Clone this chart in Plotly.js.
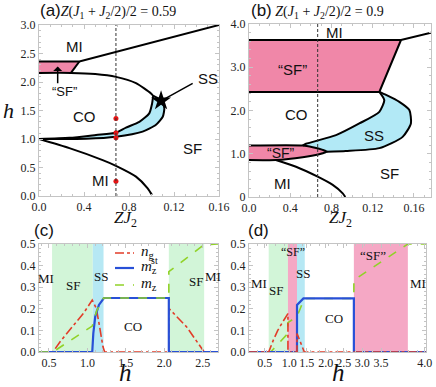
<!DOCTYPE html>
<html><head><meta charset="utf-8">
<script src="https://cdn.plot.ly/plotly-3.0.1.min.js"></script>
<style>html,body{margin:0;padding:0;background:#fff}#g{width:436px;height:387px}</style>
</head><body><div id="g"></div>
<script>
// ---------- Panel (a): phase diagram, Z(J1+J2/2)/2 = 0.59 ----------
const aTopX = [0, 0.0359, 0.16];
const aTopY = [2.36, 2.36, 3.0];
const aPinkX = [0, 0.0284, 0.0359, 0];
const aPinkY = [2.16, 2.16, 2.36, 2.36];
const aCOtopX = [0, 0.0284, 0.05, 0.0684, 0.0862, 0.0996, 0.1015];
const aCOtopY = [2.16, 2.16, 2.14, 2.09, 1.98, 1.80, 1.76];
const aSSoutX = [0.1015, 0.1055, 0.1095, 0.1114, 0.110, 0.104, 0.0921, 0.0684, 0.0418, 0];
const aSSoutY = [1.76, 1.72, 1.65, 1.54, 1.39, 1.25, 1.13, 1.04, 1.005, 1.0];
const aSSinX = [0.1015, 0.1005, 0.098, 0.0892, 0.0773, 0.0684, 0.0507, 0.027, 0];
const aSSinY = [1.76, 1.62, 1.45, 1.30, 1.20, 1.11, 1.07, 1.02, 1.0];
const aMIlowX = [0, 0.027, 0.0566, 0.0684, 0.0862, 0.0966, 0.1004];
const aMIlowY = [1.0, 0.84, 0.63, 0.53, 0.34, 0.135, 0.02];
const aCut = 0.0684;
const aDotsY = [1.36, 1.11, 1.02, 0.26];
const aStar = [0.1085, 1.67];
const aArrowTail = [0.1366, 1.977];

// ---------- Panel (b): phase diagram, Z(J1+J2/2)/2 = 0.9 ----------
const bTopX = [0, 0.1474, 0.1765];
const bTopY = [3.63, 3.63, 3.80];
const bPinkX = [0, 0.1264, 0.1474, 0];
const bPinkY = [2.43, 2.43, 3.63, 3.63];
const bSSoutX = [0.1264, 0.1329, 0.1458, 0.1555, 0.157, 0.149, 0.1264, 0.094, 0.0757];
const bSSoutY = [2.43, 2.36, 2.20, 2.01, 1.70, 1.39, 1.13, 1.064, 1.048];
const bSSinX = [0.1264, 0.1312, 0.1264, 0.107, 0.0844, 0.0553, 0.052];
const bSSinY = [2.43, 2.24, 1.97, 1.70, 1.43, 1.23, 1.19];
const bLobeX = [0, 0.052, 0.0618, 0.0715, 0.0757, 0.068, 0.052, 0.026, 0];
const bLobeY = [1.19, 1.19, 1.15, 1.09, 1.048, 0.99, 0.92, 0.855, 0.855];
const bMIlowX = [0.026, 0.0456, 0.0666, 0.0812, 0.0909, 0.0934];
const bMIlowY = [0.855, 0.70, 0.47, 0.28, 0.085, 0.0];
const bCut = 0.0666;

// ---------- Panel (c): order parameters vs h ----------
const cNgX = [0.37, 0.55, 0.65, 0.75, 0.85, 0.95, 1.063, 1.116, 1.159, 1.202, 1.225, 2.06, 2.06, 2.29, 2.52, 2.70];
const cNgY = [0, 0, 0.05, 0.095, 0.14, 0.18, 0.24, 0.202, 0.117, 0.025, 0, 0, 0.202, 0.117, 0, 0];
const cMstX = [0.37, 1.063, 1.077, 1.102, 1.150, 1.215, 2.06, 2.06, 2.70];
const cMstY = [0, 0, 0.086, 0.164, 0.218, 0.25, 0.25, 0, 0];
const cMzX = [0.37, 0.55, 1.063, 1.12, 1.21, 2.06, 2.06, 2.52, 2.70];
const cMzY = [0, 0, 0.12, 0.19, 0.25, 0.25, 0.372, 0.497, 0.5];
const cGreen = [[0.54, 1.07], [2.06, 2.52]];
const cBlue = [[1.07, 1.21]];
const seriesNames = ['<i>n</i><sub>g</sub>', '<i>m</i><sub>z</sub>', '<i>m</i><sub>z</sub>'];
const seriesSup = ['', 'st', ''];

// ---------- Panel (d): order parameters vs h ----------
const dNgX = [0, 0.445, 0.55, 0.65, 0.75, 0.88, 0.88, 1.085, 1.085, 1.25, 4.0];
const dNgY = [0, 0, 0.055, 0.10, 0.135, 0.178, 0, 0, 0.086, 0, 0];
const dMstX = [0, 1.085, 1.085, 1.23, 2.37, 2.37, 4.0];
const dMstY = [0, 0, 0.218, 0.248, 0.248, 0, 0];
const dMzX = [0, 0.49, 0.88, 0.88, 1.085, 1.25, 2.37, 2.37, 3.59, 4.0];
const dMzY = [0, 0, 0.086, 0.136, 0.164, 0.248, 0.248, 0.333, 0.5, 0.5];
const dGreen = [[0.445, 0.88]];
const dPink = [[0.88, 1.085], [2.37, 3.59]];
const dBlue = [[1.085, 1.26]];
const dTickText = ['0.5', '1.0', '1.5', '2.0', '2.5', '3.0', '3.5', '4.0'];
const dTickAt = [0.357, 0.911, 1.306, 1.733, 2.142, 2.561, 2.983, 3.973];

// ---------- styles ----------
const W = 436, H = 387;
const PINK = 'rgb(240,135,168)', LBLUE = 'rgb(178,233,246)';
const SGREEN = 'rgb(210,245,216)', SBLUE = 'rgb(182,232,244)', SPINK = 'rgb(245,168,197)';
const RED = 'rgb(226,60,40)', BLUE = 'rgb(40,80,215)', GREEN = 'rgb(145,210,40)';
const STY = [{color: RED, width: 1.6, dash: 'dashdot'}, {color: BLUE, width: 2.2}, {color: GREEN, width: 1.6, dash: 'dash'}];
const px = v => v / W, py = v => 1 - v / H;

function line(x, y, xa, ya, extra) {
  return Object.assign({x, y, xaxis: xa, yaxis: ya, mode: 'lines', showlegend: false, hoverinfo: 'skip',
    line: {color: '#000', width: 2, shape: 'spline', smoothing: 0.6}}, extra || {});
}
function fillPoly(x, y, xa, ya, color, shape) {
  return {x, y, xaxis: xa, yaxis: ya, mode: 'lines', fill: 'toself', fillcolor: color,
    line: {width: 0, color: color, shape: shape || 'linear', smoothing: 0.6}, showlegend: false, hoverinfo: 'skip'};
}
const rev = a => a.slice().reverse();

const traces = [];
// (a)
traces.push(fillPoly(aPinkX, aPinkY, 'x', 'y', PINK));
traces.push(fillPoly(aSSoutX.concat(rev(aSSinX)), aSSoutY.concat(rev(aSSinY)), 'x', 'y', LBLUE, 'spline'));
traces.push(line(aTopX, aTopY, 'x', 'y', {line: {color: '#000', width: 2}}));
traces.push(line([aPinkX[1], aPinkX[2]], [aPinkY[1], aPinkY[2]], 'x', 'y', {line: {color: '#000', width: 2}}));
traces.push(line(aCOtopX.concat(aSSoutX.slice(1)), aCOtopY.concat(aSSoutY.slice(1)), 'x', 'y'));
traces.push(line(aSSinX, aSSinY, 'x', 'y'));
traces.push(line(aMIlowX, aMIlowY, 'x', 'y'));
traces.push({x: aDotsY.map(() => aCut), y: aDotsY, xaxis: 'x', yaxis: 'y', mode: 'markers', showlegend: false,
  marker: {color: 'rgb(230,20,20)', size: 5}, hoverinfo: 'skip'});
traces.push(line([aArrowTail[0], aStar[0]], [aArrowTail[1], aStar[1]], 'x', 'y', {line: {color: '#000', width: 1.5}}));
traces.push({x: [aStar[0]], y: [aStar[1]], xaxis: 'x', yaxis: 'y', mode: 'markers', showlegend: false,
  marker: {symbol: 'star', color: '#000', size: 15}, hoverinfo: 'skip'});
// (b)
traces.push(fillPoly(bPinkX, bPinkY, 'x2', 'y2', PINK));
traces.push(fillPoly(bLobeX, bLobeY, 'x2', 'y2', PINK, 'spline'));
const ssbX = bSSinX.concat(bLobeX.slice(2, 5), rev(bSSoutX).slice(1));
const ssbY = bSSinY.concat(bLobeY.slice(2, 5), rev(bSSoutY).slice(1));
traces.push(fillPoly(ssbX, ssbY, 'x2', 'y2', LBLUE, 'spline'));
traces.push(line(bTopX, bTopY, 'x2', 'y2', {line: {color: '#000', width: 2}}));
traces.push(line(bPinkX.slice(0, 3), bPinkY.slice(0, 3), 'x2', 'y2', {line: {color: '#000', width: 2}}));
traces.push(line(bSSoutX, bSSoutY, 'x2', 'y2'));
traces.push(line(bSSinX, bSSinY, 'x2', 'y2'));
traces.push(line(bLobeX, bLobeY, 'x2', 'y2'));
traces.push(line(bMIlowX, bMIlowY, 'x2', 'y2'));
// (c)
[[cNgX, cNgY], [cMstX, cMstY], [cMzX, cMzY]].forEach((s, i) =>
  traces.push({x: s[0], y: s[1], xaxis: 'x3', yaxis: 'y3', mode: 'lines', showlegend: false, line: STY[i], hoverinfo: 'skip'}));
// (d)
[[dMzX, dMzY, 2], [dMstX, dMstY, 1], [dNgX, dNgY, 0]].forEach(s =>
  traces.push({x: s[0], y: s[1], xaxis: 'x4', yaxis: 'y4', mode: 'lines', showlegend: false, line: STY[s[2]], hoverinfo: 'skip'}));

// shading shapes
const shapes = [];
function band(list, xref, yref, color) {
  list.forEach(b => shapes.push({type: 'rect', xref, yref: yref + ' domain', x0: b[0], x1: b[1], y0: 0, y1: 1,
    fillcolor: color, line: {width: 0}, layer: 'below'}));
}
band(cGreen, 'x3', 'y3', SGREEN); band(cBlue, 'x3', 'y3', SBLUE);
band(dGreen, 'x4', 'y4', SGREEN); band(dPink, 'x4', 'y4', SPINK); band(dBlue, 'x4', 'y4', SBLUE);
shapes.push({type: 'line', xref: 'x', yref: 'y domain', x0: aCut, x1: aCut, y0: 0, y1: 1, line: {color: '#333', width: 1, dash: '3px,2px'}});
shapes.push({type: 'line', xref: 'x2', yref: 'y2 domain', x0: bCut, x1: bCut, y0: 0, y1: 1, line: {color: '#333', width: 1, dash: '3px,2px'}});

const TF = {family: 'Liberation Serif', size: 12, color: '#222'};
function axis(o) {
  return Object.assign({showline: true, linecolor: '#c4c4c4', linewidth: 1, mirror: 'ticks', ticks: 'inside',
    ticklen: 4, tickcolor: '#c4c4c4', showgrid: false, zeroline: false, tickfont: TF, fixedrange: true}, o);
}
function minor(d) { return {ticks: 'inside', ticklen: 2, tickcolor: '#c4c4c4', tickmode: 'linear', tick0: 0, dtick: d}; }

const ann = [];
function t(x, y, xr, yr, text, size, fam, extra) {
  ann.push(Object.assign({x, y, xref: xr, yref: yr, text, showarrow: false, xanchor: 'center', yanchor: 'middle',
    font: {family: fam || 'Liberation Sans', size: size || 14, color: '#111'}}, extra || {}));
}
// titles
t(px(38), py(11), 'paper', 'paper', '<span style="font-family:Liberation Sans;font-size:17px">(a)</span><i>Z</i>(<i>J</i><sub>1</sub> + <i>J</i><sub>2</sub>/2)/2 = 0.59', 14, 'Liberation Serif', {xanchor: 'left'});
t(px(249), py(11), 'paper', 'paper', '<span style="font-family:Liberation Sans;font-size:17px">(b)</span> <i>Z</i>(<i>J</i><sub>1</sub> + <i>J</i><sub>2</sub>/2)/2 = 0.9', 14, 'Liberation Serif', {xanchor: 'left'});
t(px(44), py(230), 'paper', 'paper', '(c)', 17);
t(px(258), py(230), 'paper', 'paper', '(d)', 17);
t(px(8), py(110), 'paper', 'paper', '<i>h</i>', 22, 'Liberation Serif');
t(px(125), py(219), 'paper', 'paper', '<i>ZJ</i><sub>2</sub>', 17, 'Liberation Serif');
t(px(340), py(219), 'paper', 'paper', '<i>ZJ</i><sub>2</sub>', 17, 'Liberation Serif');
t(px(125), py(372), 'paper', 'paper', '<i>h</i>', 25, 'Liberation Serif');
t(px(338), py(372), 'paper', 'paper', '<i>h</i>', 25, 'Liberation Serif');
// manual legend for (c)
const legRows = [253, 268, 285];
seriesNames.forEach((nm, i) => {
  shapes.push({type: 'line', xref: 'paper', yref: 'paper', x0: px(115), x1: px(134), y0: py(legRows[i]), y1: py(legRows[i]),
    line: STY[i]});
  t(px(139), py(legRows[i] - 1), 'paper', 'paper', nm, 15, 'Liberation Serif', {xanchor: 'left'});
  if (seriesSup[i]) t(px(149), py(legRows[i] - 8), 'paper', 'paper', seriesSup[i], 10, 'Liberation Serif', {xanchor: 'left'});
});
// (a) labels
t(0.0314, 2.62, 'x', 'y', 'MI', 15);
t(0.0225, 1.83, 'x', 'y', '\u201CSF\u201D', 13);
t(0.0403, 1.39, 'x', 'y', 'CO', 15);
t(0.150, 2.06, 'x', 'y', 'SS', 15);
t(0.1366, 0.84, 'x', 'y', 'SF', 15);
t(0.0551, 0.28, 'x', 'y', 'MI', 15);
ann.push({x: 0.0166, y: 2.27, ax: 0.0166, ay: 1.95, xref: 'x', yref: 'y', axref: 'x', ayref: 'y', text: '',
  showarrow: true, arrowhead: 1, arrowsize: 1, arrowwidth: 1.5, arrowcolor: '#000'});
// (b) labels
t(0.0828, 3.80, 'x2', 'y2', 'MI', 15);
t(0.0424, 2.94, 'x2', 'y2', '\u201CSF\u201D', 15);
t(0.0456, 1.90, 'x2', 'y2', 'CO', 15);
t(0.1215, 1.43, 'x2', 'y2', 'SS', 15);
t(0.031, 1.02, 'x2', 'y2', '\u201CSF\u201D', 14);
t(0.136, 0.55, 'x2', 'y2', 'SF', 15);
t(0.0327, 0.32, 'x2', 'y2', 'MI', 15);
// (c) labels
const SF = 'Liberation Serif';
t(0.46, 0.34, 'x3', 'y3', 'MI', 13, SF);
t(0.81, 0.31, 'x3', 'y3', 'SF', 13, SF);
t(1.175, 0.35, 'x3', 'y3', 'SS', 13, SF);
t(1.595, 0.117, 'x3', 'y3', 'CO', 13, SF);
t(2.42, 0.325, 'x3', 'y3', 'SF', 13, SF);
t(2.63, 0.35, 'x3', 'y3', 'MI', 13, SF);
// (d) labels
t(0.233, 0.318, 'x4', 'y4', 'MI', 13, SF);
t(0.61, 0.287, 'x4', 'y4', 'SF', 13, SF);
t(0.987, 0.464, 'x4', 'y4', '\u201CSF\u201D', 12, SF);
t(1.23, 0.364, 'x4', 'y4', 'SS', 13, SF);
t(1.93, 0.156, 'x4', 'y4', 'CO', 13, SF);
t(2.795, 0.449, 'x4', 'y4', '\u201CSF\u201D', 13, SF);
t(3.81, 0.318, 'x4', 'y4', 'MI', 13, SF);

const layout = {
  width: W, height: H, margin: {l: 0, r: 0, t: 0, b: 0}, paper_bgcolor: '#fff', plot_bgcolor: '#fff',
  showlegend: false,
  xaxis: axis({domain: [px(39), px(219)], range: [0, 0.16], anchor: 'y', tickvals: [0, 0.04, 0.08, 0.12, 0.16],
    ticktext: ['0.0', '0.4', '0.8', '0.12', '0.16'], minor: minor(0.01)}),
  yaxis: axis({domain: [py(196), py(25)], range: [0, 3], anchor: 'x', tickvals: [0, 0.5, 1, 1.5, 2, 2.5, 3],
    ticktext: ['0.0', '0.5', '1.0', '1.5', '2.0', '2.5', '3.0'], minor: minor(0.1)}),
  xaxis2: axis({domain: [px(249), px(431)], range: [0, 0.1765], anchor: 'y2', tickvals: [0, 0.04, 0.08, 0.12, 0.16],
    ticktext: ['0.0', '0.4', '0.8', '0.12', '0.16'], minor: minor(0.01)}),
  yaxis2: axis({domain: [py(197), py(24)], range: [0, 4], anchor: 'x2', tickvals: [0, 1, 2, 3, 4],
    ticktext: ['0', '1.0', '2.0', '3.0', '4.0'], minor: minor(0.2)}),
  xaxis3: axis({domain: [px(39), px(218)], range: [0.37, 2.70], anchor: 'y3', tickvals: [0.5, 1, 1.5, 2, 2.5],
    ticktext: ['0.5', '1.0', '1.5', '2.0', '2.5'], minor: minor(0.1)}),
  yaxis3: axis({domain: [py(352), py(244)], range: [0, 0.5], anchor: 'x3', tickvals: [0, 0.1, 0.2, 0.3, 0.4, 0.5],
    ticktext: ['0.0', '0.1', '0.2', '0.3', '0.4', '0.5'], minor: minor(0.02)}),
  xaxis4: axis({domain: [px(249), px(426)], range: [0, 4], anchor: 'y4', tickvals: dTickAt, ticktext: dTickText,
    minor: minor(0.2)}),
  yaxis4: axis({domain: [py(352), py(244)], range: [0, 0.5], anchor: 'x4', tickvals: [0, 0.1, 0.2, 0.3, 0.4, 0.5],
    ticktext: ['0.0', '0.1', '0.2', '0.3', '0.4', '0.5'], minor: minor(0.02)}),
  shapes, annotations: ann
};
Plotly.newPlot('g', traces, layout, {staticPlot: true, displayModeBar: false});
</script></body></html>
